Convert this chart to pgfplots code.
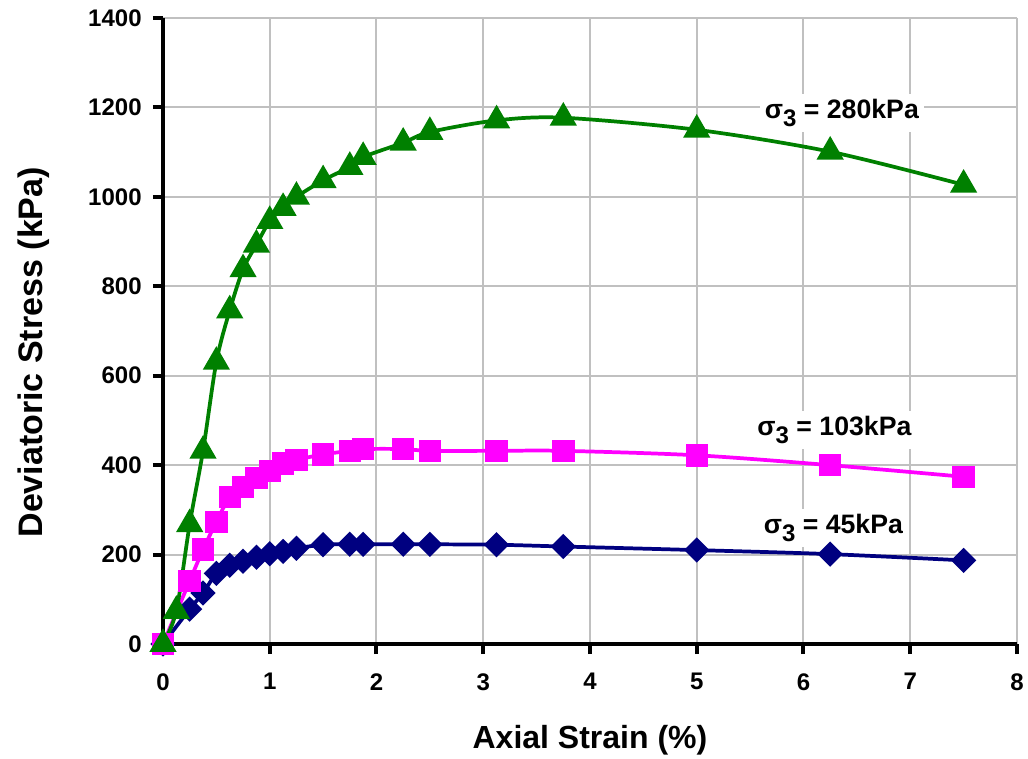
\documentclass[border=0pt]{standalone}
\usepackage{fontspec}
\setmainfont{Liberation Sans}
\usepackage{pgfplots}
\pgfplotsset{compat=1.18}

\definecolor{dgreen}{RGB}{0,128,0}
\definecolor{navyblue}{RGB}{0,0,128}
\definecolor{pinkmag}{RGB}{255,0,255}
\definecolor{gridgray}{RGB}{192,192,192}

\newcommand{\sig}{σ\raisebox{-0.3em}{\fontsize{18}{18}\selectfont 3}}

\begin{document}
\begin{tikzpicture}
% picture frame = 1028 x 758 px at 0.75pt per px
\path[use as bounding box] (-122.25pt,-85.5pt) rectangle (648.75pt,483pt);
\begin{axis}[
    at={(0,0)}, anchor=south west,
    scale only axis,
    width=640.5pt, height=469.5pt,
    xmin=0, xmax=8, ymin=0, ymax=1400,
    xtick={0,1,...,8},
    ytick={0,200,...,1400},
    axis x line*=bottom, axis y line*=left,
    axis line style={line width=3pt, black, -},
    grid=major,
    major grid style={line width=1.5pt, gridgray},
    tick align=outside,
    major tick length=7.5pt,
    tick style={line width=3pt, black},
    every tick label/.append style={font=\fontsize{18}{20}\selectfont\bfseries},
    /pgf/number format/assume math mode=true,
    /pgf/number format/set thousands separator={},
    xticklabel style={yshift=-11pt},
    yticklabel style={xshift=-5pt},
    xlabel={\textbf{Axial Strain (\%)}},
    ylabel={\textbf{Deviatoric Stress (kPa)}},
    xlabel style={font=\fontsize{24}{26}\selectfont, at={(axis description cs:0.5,-0.153)}, anchor=center},
    ylabel style={font=\fontsize{25.5}{27}\selectfont, at={(axis description cs:-0.151,0.466)}, anchor=center, rotate=0},
    clip=false,
]
% sigma3 = 45 kPa
\addplot[navyblue, line width=2.8pt, smooth, tension=0.5,
    mark=square*, mark size=5.3pt, mark options={solid, rotate=45, fill=navyblue}]
coordinates {
    (0,0) (0.25,78) (0.375,114) (0.5,158) (0.625,176) (0.75,185)
    (0.875,194) (1.0,202) (1.125,207) (1.25,214) (1.5,222) (1.75,223)
    (1.875,223) (2.25,223) (2.5,223) (3.125,222) (3.75,218) (5,210)
    (6.25,201) (7.5,187)
};
% sigma3 = 103 kPa
\addplot[pinkmag, line width=2.8pt, smooth, tension=0.5,
    mark=square*, mark size=7pt, mark options={solid, fill=pinkmag}]
coordinates {
    (0,0) (0.25,141) (0.375,211) (0.5,273) (0.625,329) (0.75,351)
    (0.875,371) (1.0,387) (1.125,404) (1.25,412) (1.5,424) (1.75,432)
    (1.875,436) (2.25,436) (2.5,432) (3.125,432) (3.75,432) (5,422)
    (6.25,400) (7.5,374)
};
% sigma3 = 280 kPa
\addplot[dgreen, line width=2.8pt, smooth, tension=0.5,
    mark=triangle*, mark size=9pt, mark options={solid, fill=dgreen}]
coordinates {
    (0,0) (0.125,74) (0.25,268) (0.375,432) (0.5,631) (0.625,746)
    (0.75,838) (0.875,893) (1.0,946) (1.125,975) (1.25,1000) (1.5,1037)
    (1.75,1067) (1.875,1089) (2.25,1121) (2.5,1145) (3.125,1171)
    (3.75,1177) (5,1150) (6.25,1101) (7.5,1027)
};
\node[fill=white, inner sep=4pt, font=\fontsize{20}{22}\selectfont\bfseries]
    at (axis cs:6.36,1188) {\sig\ = 280kPa};
\node[fill=white, inner sep=4pt, font=\fontsize{20}{22}\selectfont\bfseries]
    at (axis cs:6.29,479) {\sig\ = 103kPa};
\node[fill=white, inner sep=4pt, font=\fontsize{20}{22}\selectfont\bfseries]
    at (axis cs:6.28,260) {\sig\ = 45kPa};
\end{axis}
\end{tikzpicture}
\end{document}
